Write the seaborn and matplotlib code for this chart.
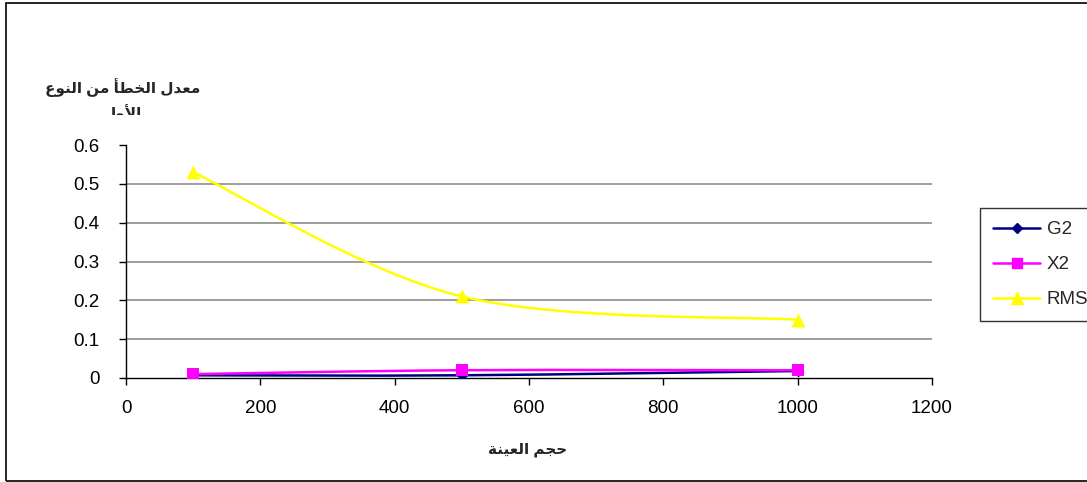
import numpy as np
import pandas as pd
import matplotlib
matplotlib.use("Agg")
import matplotlib.pyplot as plt
from matplotlib.path import Path
from matplotlib.patches import PathPatch, Rectangle
from matplotlib.lines import Line2D
import seaborn as sns

# Sample sizes and type I error rates for each statistic
sample_sizes = [100, 500, 1000]
g2_values = [0.007, 0.007, 0.018]
x2_values = [0.010, 0.020, 0.020]
rms_values = [0.53, 0.21, 0.15]
series_names = ["G2", "X2", "RMS"]
y_ticks = [0, 0.1, 0.2, 0.3, 0.4, 0.5, 0.6]
x_ticks = [0, 200, 400, 600, 800, 1000, 1200]

# Arabic labels, written with presentation forms in visual (right-to-left) order
def visual(forms):
    return "".join(chr(c) for c in forms)[::-1]

# "معدل الخطأ من النوع"
ylabel_line1 = visual([0xFEE3, 0xFECC, 0xFEAA, 0xFEDD, 0x20,
                       0xFE8D, 0xFEDF, 0xFEA8, 0xFEC4, 0xFE84, 0x20,
                       0xFEE3, 0xFEE6, 0x20,
                       0xFE8D, 0xFEDF, 0xFEE8, 0xFEEE, 0xFEC9])
# "الأول"
ylabel_line2 = visual([0xFE8D, 0xFEF7, 0xFEED, 0xFEDD])
# "حجم العينة"
xlabel_text = visual([0xFEA3, 0xFEA0, 0xFEE2, 0x20,
                      0xFE8D, 0xFEDF, 0xFECC, 0xFEF4, 0xFEE8, 0xFE94])

df = pd.DataFrame({
    "size": sample_sizes * 3,
    "rate": g2_values + x2_values + rms_values,
    "stat": [s for s in series_names for _ in sample_sizes],
})

sns.set_theme(style="white")
plt.rcParams["font.family"] = ["Liberation Sans", "DejaVu Sans"]

colors = {"G2": "#000080", "X2": "#FF00FF", "RMS": "#FFFF00"}
markers = {"G2": "D", "X2": "s", "RMS": "^"}
msizes = {"G2": 6, "X2": 8, "RMS": 10}

W, H = 1087, 482
fig = plt.figure(figsize=(W / 100, H / 100), dpi=100)
ax = fig.add_axes([126 / W, 1 - 378 / H, (932 - 126) / W, (378 - 145) / H])


def smooth_path(xs, ys):
    """Catmull-Rom style cubic Bezier through the points (line smoothing)."""
    pts = np.column_stack([xs, ys]).astype(float)
    n = len(pts)
    verts = [pts[0]]
    codes = [Path.MOVETO]
    for i in range(n - 1):
        p0 = pts[max(i - 1, 0)]
        p1 = pts[i]
        p2 = pts[i + 1]
        p3 = pts[min(i + 2, n - 1)]
        c1 = p1 + (p2 - p0) / 6.0
        c2 = p2 - (p3 - p1) / 6.0
        verts += [c1, c2, p2]
        codes += [Path.CURVE4] * 3
    return Path(verts, codes)


# Smoothed connecting lines, drawn in data coordinates
for name in series_names:
    sub = df[df["stat"] == name]
    patch = PathPatch(smooth_path(sub["size"].values, sub["rate"].values),
                      facecolor="none", edgecolor=colors[name], lw=1.8,
                      transform=ax.transData, zorder=3)
    ax.add_patch(patch)

# Markers at the data points
for name in series_names:
    sub = df[df["stat"] == name]
    sns.scatterplot(data=sub, x="size", y="rate", ax=ax, marker=markers[name],
                    color=colors[name], s=msizes[name] ** 2, linewidth=0,
                    zorder=4, legend=False)

ax.set_xlim(0, 1200)
ax.set_ylim(0, 0.6)
ax.set_xticks(x_ticks)
ax.set_xticklabels([str(v) for v in x_ticks])
ax.set_yticks(y_ticks)
ax.set_yticklabels([f"{v:g}" for v in y_ticks])
ax.set_xlabel("")
ax.set_ylabel("")

for v in y_ticks[1:-1]:
    ax.axhline(v, color="#8c8c8c", lw=1.2, zorder=1)

for side in ["top", "right"]:
    ax.spines[side].set_visible(False)
for side in ["left", "bottom"]:
    ax.spines[side].set_color("black")
    ax.spines[side].set_linewidth(1.0)

ax.tick_params(axis="both", direction="out", length=5, width=1, color="black",
               labelsize=13.5, labelcolor="black", pad=14, left=True, bottom=True)
ax.tick_params(axis="x", pad=11)
ax.set_facecolor("white")

# Axis titles
fig.text(528 / W, 1 - 450 / H, xlabel_text, ha="center", va="center",
         fontsize=11, fontweight="bold")
fig.text(123 / W, 1 - 88 / H, ylabel_line1, ha="center", va="center",
         fontsize=11, fontweight="bold")
t2 = fig.text(123 / W, 1 - 113 / H, ylabel_line2, ha="center", va="center",
              fontsize=11, fontweight="bold")
clip = Rectangle((0, 1 - 115 / H), 1, 0.2, transform=fig.transFigure,
                 visible=False)
fig.add_artist(clip)
t2.set_clip_path(clip)

# Legend
handles = [Line2D([0], [0], color=colors[n], marker=markers[n], lw=1.8,
                  markersize=msizes[n] * 0.9) for n in series_names]
leg = fig.legend(handles, series_names, loc="upper left",
                 bbox_to_anchor=(980 / W, 1 - 208 / H), frameon=True,
                 fontsize=13.5, handlelength=2.5, handletextpad=0.35,
                 labelspacing=0.95, borderpad=0.7, fancybox=False,
                 borderaxespad=0)
leg.get_frame().set_edgecolor("black")
leg.get_frame().set_linewidth(1.0)

# Outer chart frame
fig.add_artist(Rectangle((6 / W, 1 / H), 1.2, 1 - 4 / H,
                         transform=fig.transFigure, fill=False,
                         edgecolor="black", lw=1.2))

fig.savefig("out.png", dpi=100, facecolor="white")
